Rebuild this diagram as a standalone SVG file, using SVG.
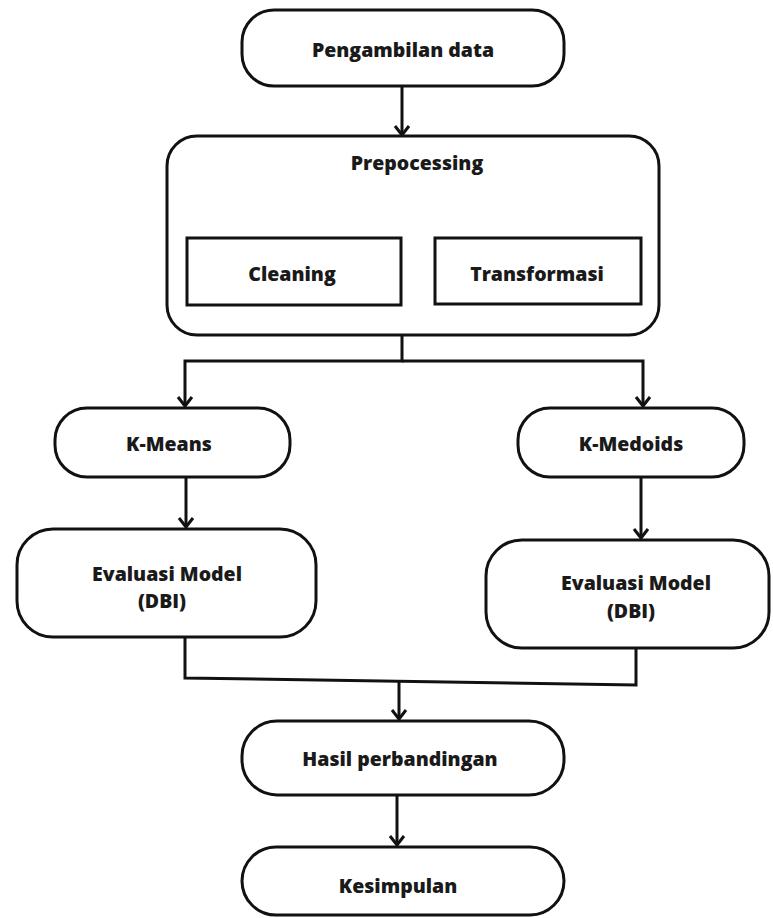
<svg xmlns="http://www.w3.org/2000/svg" width="773" height="918" viewBox="0 0 773 918">
<defs>
<marker id="arr" markerUnits="userSpaceOnUse" markerWidth="24" markerHeight="24" viewBox="-12 -12 24 24" refX="0" refY="0" orient="auto" overflow="visible">
<path d="M-9,-7 L0,0 L-9,7" fill="none" stroke="#111" stroke-width="3" stroke-linejoin="miter"/>
</marker>
</defs>
<style>
.box{fill:#fff;stroke:#111;stroke-width:3}
.t{font-family:"Open Sans","Noto Sans","DejaVu Sans",sans-serif;font-weight:800;font-size:19.5px;fill:#1a1a1a;text-anchor:middle;dominant-baseline:central}
.c{fill:none;stroke:#111;stroke-width:3}
</style>
<rect width="773" height="918" fill="#fff"/>
<g id="connectors">
<path class="c" d="M402 86 V135" marker-end="url(#arr)"/>
<path class="c" d="M402 335 V361 H185 V406" marker-end="url(#arr)"/>
<path class="c" d="M402 361 H643 V406" marker-end="url(#arr)"/>
<path class="c" d="M186 477 V527" marker-end="url(#arr)"/>
<path class="c" d="M641 477 V538" marker-end="url(#arr)"/>
<path class="c" d="M185 637 V678 L636 685 V648"/>
<path class="c" d="M399 681 V719" marker-end="url(#arr)"/>
<path class="c" d="M397 795 V845" marker-end="url(#arr)"/>
</g>
<g id="pengambilan">
<rect class="box" x="242" y="10" width="322" height="76" rx="32"/>
<text class="t" x="403" y="49">Pengambilan data</text>
</g>
<g id="prepocessing">
<rect class="box" x="167" y="136" width="492" height="199" rx="30"/>
<text class="t" x="417" y="162">Prepocessing</text>
</g>
<g id="cleaning">
<rect class="box" x="187" y="238" width="214" height="67"/>
<text class="t" x="292" y="273">Cleaning</text>
</g>
<g id="transformasi">
<rect class="box" x="435" y="238" width="206" height="66"/>
<text class="t" x="537" y="273">Transformasi</text>
</g>
<g id="kmeans">
<rect class="box" x="55" y="408" width="235" height="69" rx="32"/>
<text class="t" x="169" y="443">K-Means</text>
</g>
<g id="kmedoids">
<rect class="box" x="518" y="408" width="226" height="69" rx="32"/>
<text class="t" x="631" y="443">K-Medoids</text>
</g>
<g id="evaluasi1">
<rect class="box" x="17" y="529" width="299" height="108" rx="36"/>
<text class="t" x="167" y="573">Evaluasi Model</text>
<text class="t" x="162" y="600">(DBI)</text>
</g>
<g id="evaluasi2">
<rect class="box" x="486" y="540" width="283" height="108" rx="36"/>
<text class="t" x="636" y="582">Evaluasi Model</text>
<text class="t" x="631" y="610">(DBI)</text>
</g>
<g id="hasil">
<rect class="box" x="242" y="721" width="322" height="74" rx="35"/>
<text class="t" x="400" y="758">Hasil perbandingan</text>
</g>
<g id="kesimpulan">
<rect class="box" x="242" y="847" width="322" height="68" rx="34"/>
<text class="t" x="398" y="885">Kesimpulan</text>
</g>
</svg>
